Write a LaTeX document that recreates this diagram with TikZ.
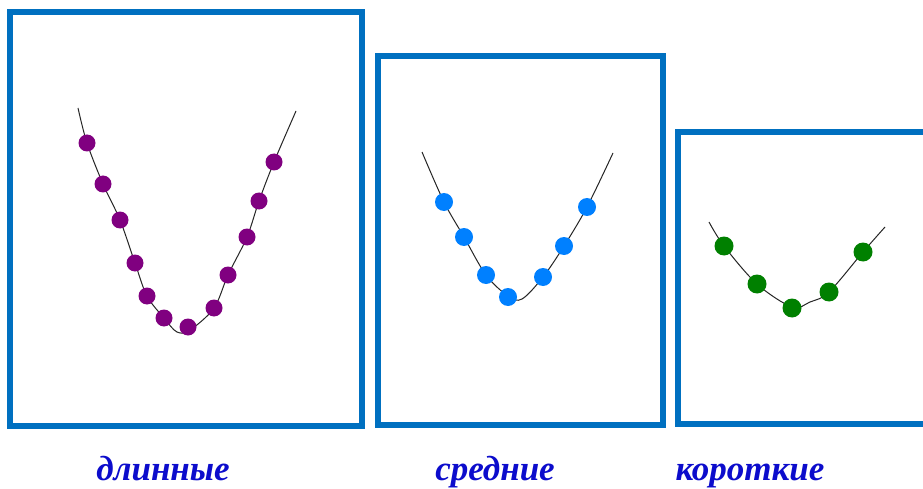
\documentclass[tikz,border=0pt]{standalone}
\usepackage{fontspec}
\setmainfont{Liberation Serif}
\definecolor{frameblue}{RGB}{0,112,192}
\definecolor{dotpurple}{RGB}{128,0,128}
\definecolor{dotblue}{RGB}{0,128,255}
\definecolor{dotgreen}{RGB}{0,128,0}
\definecolor{labelblue}{RGB}{12,12,204}
\tikzset{
  framebox/.style={draw=frameblue, line width=6pt},
  curveline/.style={draw=black!85, line width=1pt},
  lbl/.style={text=labelblue, font=\fontsize{35}{38}\selectfont\bfseries\itshape, anchor=base, inner sep=0pt},
}
\begin{document}
\begin{tikzpicture}[x=1pt,y=-1pt]
\clip (0,0) rectangle (923,489);
\fill[white] (0,0) rectangle (923,489);
% frames
\draw[framebox] (10,12) rectangle (362,426);
\draw[framebox] (378,56) rectangle (663,425);
\draw[framebox] (935,132) -- (678,132) -- (678,424) -- (935,424);
% curves
\draw[curveline] plot[smooth, tension=0.55] coordinates {(78,108) (87,143) (103,184) (120,220) (135,263) (147,296) (164,318) (177,332) (190,330) (214,308) (228,275) (247,237) (259,201) (274,162) (296,111)};
\draw[curveline] plot[smooth, tension=0.55] coordinates {(422,152) (444,202) (464,237) (486,275) (508,296) (522,299) (543,277) (564,246) (587,207) (613,153)};
\draw[curveline] plot[smooth, tension=0.55] coordinates {(709,222) (724,246) (757,284) (792,307) (810,302) (829,292) (863,252) (885,227)};
% dots
\foreach \p in {(87,143),(103,184),(120,220),(135,263),(147,296),(164,318),(188,327),(214,308),(228,275),(247,237),(259,201),(274,162)}
  \fill[dotpurple] \p circle (8.5);
\foreach \p in {(444,202),(464,237),(486,275),(508,297),(543,277),(564,246),(587,207)}
  \fill[dotblue] \p circle (9);
\foreach \p in {(724,246),(757,284),(792,308),(829,292),(863,252)}
  \fill[dotgreen] \p circle (9.5);
% labels
\node[lbl] (l1) at (163,480) {длинные};
\node[lbl] (l2) at (495,480) {средние};
\node[lbl] (l3) at (750,480) {короткие};
\end{tikzpicture}
\end{document}
